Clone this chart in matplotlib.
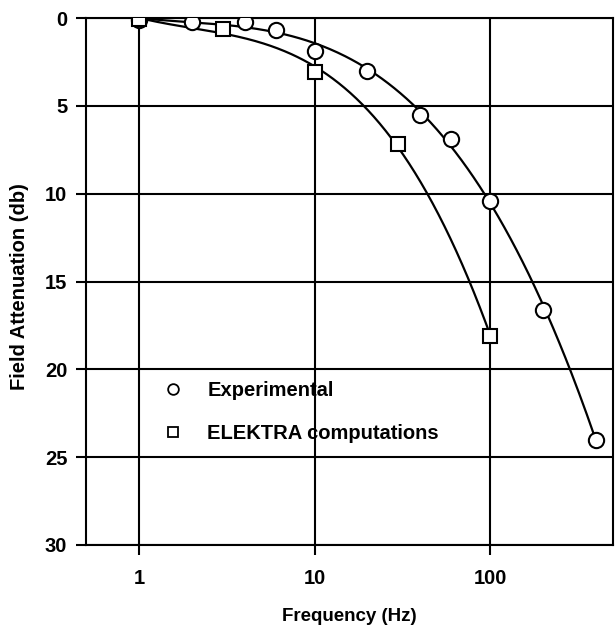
import numpy as np
import matplotlib.pyplot as plt

# Datos
freq_exp = [1, 2, 4, 6, 10, 20, 40, 60, 100, 200, 400]
aten_exp = [0.1, 0.2, 0.2, 0.7, 1.9, 3.0, 5.5, 6.9, 10.4, 16.6, 24.0]

freq_elektra = [1, 3, 10, 30, 100]
aten_elektra = [0.05, 0.65, 3.1, 7.15, 18.1]

xticks = [1, 10, 100]
xticklabels = ['1', '10', '100']
yticks = [0, 5, 10, 15, 20, 25, 30]

plt.rcParams['font.family'] = ['Liberation Sans', 'DejaVu Sans']
plt.rcParams['font.weight'] = 'bold'


def curva_suave(x, y, grado=3):
    # Ajuste polinómico en log10(f) para trazar la curva suave
    lx = np.log10(x)
    coef = np.polyfit(lx, y, grado)
    xs = np.linspace(lx.min(), lx.max(), 300)
    return 10 ** xs, np.polyval(coef, xs)


fig = plt.figure(figsize=(6.16, 6.29), dpi=100)
ax = fig.add_axes([86 / 616, 1 - 545 / 629, 527 / 616, 527 / 629])

ax.set_xscale('log')
ax.set_xlim(0.5, 500)
ax.set_ylim(30, 0)

# Curvas
xe, ye = curva_suave(freq_exp, aten_exp)
ax.plot(xe, ye, color='black', lw=1.6, zorder=3)
xk, yk = curva_suave(freq_elektra, aten_elektra)
ax.plot(xk, yk, color='black', lw=1.6, zorder=3)

# Puntos
ax.plot(freq_exp, aten_exp, 'o', ms=11, mfc='white', mec='black', mew=1.5,
        ls='none', zorder=4, label='Experimental')
ax.plot(freq_elektra, aten_elektra, 's', ms=10, mfc='white', mec='black', mew=1.5,
        ls='none', zorder=5, label='ELEKTRA computations')

ax.set_xticks(xticks)
ax.set_xticklabels(xticklabels)
ax.xaxis.set_minor_locator(plt.NullLocator())
ax.set_yticks(yticks)
ax.grid(True, color='black', lw=1.5)
ax.tick_params(axis='both', length=7.5, width=1.5, labelsize=14.5)
ax.tick_params(axis='y', pad=6)
ax.tick_params(axis='x', pad=10)
for s in ax.spines.values():
    s.set_linewidth(1.5)

ax.set_xlabel('Frequency (Hz)', fontsize=13.5, fontweight='bold', labelpad=14)
ax.set_ylabel('Field Attenuation (db)', fontsize=14.5, fontweight='bold')
ax.yaxis.set_label_coords(-0.108, 0.49)

leg = ax.legend(loc='upper left', bbox_to_anchor=(0.112, 0.345), frameon=False,
                fontsize=14.5, handlelength=1.0, handletextpad=1.2,
                labelspacing=1.2, markerscale=0.7)
for h in leg.legend_handles:
    h.set_markeredgewidth(1.3)

fig.savefig('out.png', dpi=100)
